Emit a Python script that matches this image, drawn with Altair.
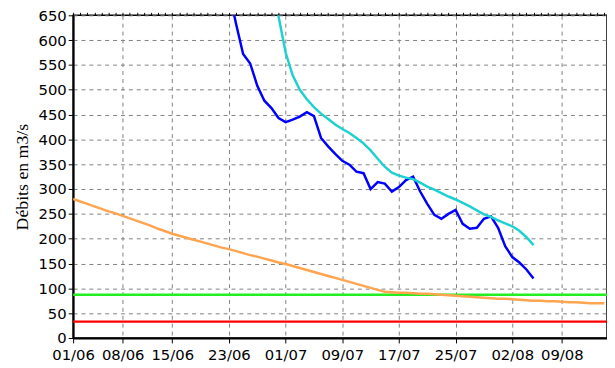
import altair as alt
import pandas as pd

# ---- data ----
START = "2023-06-01"
# orange series: daily values from 01/06 (d=0) to 15/08 (d=75)
orange_vals = [280, 275, 270, 265, 260, 255, 251, 246, 241, 236,
               231, 226, 220, 215, 210, 206, 202, 198, 194, 190,
               186, 182, 179, 175, 171, 167, 164, 160, 156, 152,
               149, 145, 141, 137, 133, 129, 125, 121, 117, 113,
               109, 105, 101, 97, 93, 92, 91, 91, 90, 89,
               89, 88, 87, 86, 85, 84, 83, 82, 81, 80,
               79, 79, 78, 77, 76, 75, 75, 74, 74, 73,
               72, 72, 71, 70, 70, 70]
# blue series: daily values from 23/06 (d=22) to 05/08 (d=65)
blue_start = 22
blue_vals = [700, 633, 572, 553, 508, 478, 463, 443, 435, 440,
             446, 455, 447, 403, 386, 371, 357, 349, 335, 332,
             300, 314, 311, 295, 304, 318, 325, 295, 270, 248,
             240, 250, 258, 230, 220, 222, 240, 245, 222, 185,
             163, 152, 138, 120]
# cyan series: daily values from 29/06 (d=28) to 05/08 (d=65)
cyan_start = 28
cyan_vals = [720, 648, 575, 529, 500, 481, 465, 452, 441, 430,
             421, 413, 403, 392, 378, 361, 345, 333, 327, 323,
             320, 313, 305, 299, 292, 285, 279, 272, 265, 257,
             249, 244, 237, 231, 225, 216, 203, 187]
# threshold levels
level_names = ["green", "red"]
level_vals = [87, 33]
level_colors = ["#22ee22", "#ff0000"]
# x tick labels (dates)
tick_dates = ["2023-06-01", "2023-06-08", "2023-06-15", "2023-06-23",
              "2023-07-01", "2023-07-09", "2023-07-17", "2023-07-25",
              "2023-08-02", "2023-08-09"]
y_ticks = list(range(0, 651, 50))

series_names = ["orange", "blue", "cyan"]
series_colors = ["#ffa54f", "#0000ff", "#1ed0d0"]

# ---- build tables ----
base = pd.Timestamp(START)
rows = []
for i, v in enumerate(orange_vals):
    rows.append({"s": "orange", "date": base + pd.Timedelta(days=i), "v": v})
for i, v in enumerate(blue_vals):
    rows.append({"s": "blue", "date": base + pd.Timedelta(days=blue_start + i), "v": v})
for i, v in enumerate(cyan_vals):
    rows.append({"s": "cyan", "date": base + pd.Timedelta(days=cyan_start + i), "v": v})
df = pd.DataFrame(rows)
levels = pd.DataFrame({"name": level_names, "v": level_vals})
days = pd.DataFrame({"date": [base + pd.Timedelta(days=i) for i in range(76)]})


def dt(s):
    t = pd.Timestamp(s)
    return alt.DateTime(year=t.year, month=t.month, date=t.day, hours=t.hour)


x_scale = alt.Scale(domain=[dt("2023-06-01"), dt("2023-08-15 09:00")], nice=False)
y_scale = alt.Scale(domain=[0, 650], nice=False, zero=True)

y_axis = alt.Axis(values=y_ticks, labelFont="DejaVu Sans", labelFontSize=15,
                  labelColor="black", tickColor="black", tickSize=5,
                  domainColor="black", domainWidth=2, grid=True,
                  gridColor="#808080", gridDash=[4, 4], gridWidth=1,
                  labelPadding=2, labelOverlap=False, labelFlush=False,
                  title="Débits en m3/s", titleFont="Liberation Serif",
                  titleFontSize=18, titleFontWeight="normal",
                  titleColor="black", titlePadding=7)

x_axis = alt.Axis(values=[dt(d) for d in tick_dates], format="%d/%m",
                  labelFont="DejaVu Sans", labelFontSize=15, labelColor="black",
                  tickColor="black", tickSize=5, domainColor="black",
                  domainWidth=2, grid=True, gridColor="#808080",
                  gridDash=[4, 4], gridWidth=1, labelPadding=5,
                  labelOverlap=False, labelFlush=False, title=None)

minor_axis = alt.Axis(values=[dt(str(d)) for d in days["date"]], labels=False,
                      ticks=True, tickSize=3, tickColor="black", domain=False,
                      grid=False, title=None)

lines = alt.Chart(df).mark_line(strokeWidth=2.5, clip=True).encode(
    x=alt.X("date:T", scale=x_scale, axis=x_axis),
    y=alt.Y("v:Q", scale=y_scale, axis=y_axis),
    color=alt.Color("s:N", scale=alt.Scale(domain=series_names, range=series_colors),
                    legend=None),
    order=alt.Order("date:T"),
)

rules = alt.Chart(levels).mark_rule(strokeWidth=2.5).encode(
    y=alt.Y("v:Q", scale=y_scale, axis=y_axis),
    color=alt.Color("name:N", scale=alt.Scale(domain=level_names, range=level_colors),
                    legend=None),
)

minor = alt.Chart(days).mark_point(opacity=0).encode(
    x=alt.X("date:T", scale=x_scale, axis=minor_axis),
)

chart = alt.layer(rules, lines, minor).resolve_axis(x="independent").resolve_scale(
    color="independent"
).properties(
    width=541, height=327,
    autosize=alt.AutoSizeParams(type="none"),
    padding={"left": 66, "top": 5, "right": 0, "bottom": 28},
    background="white",
).configure_view(stroke="black", strokeWidth=1.5)

chart.save("out.html", embed_options={"renderer": "svg", "actions": False})
